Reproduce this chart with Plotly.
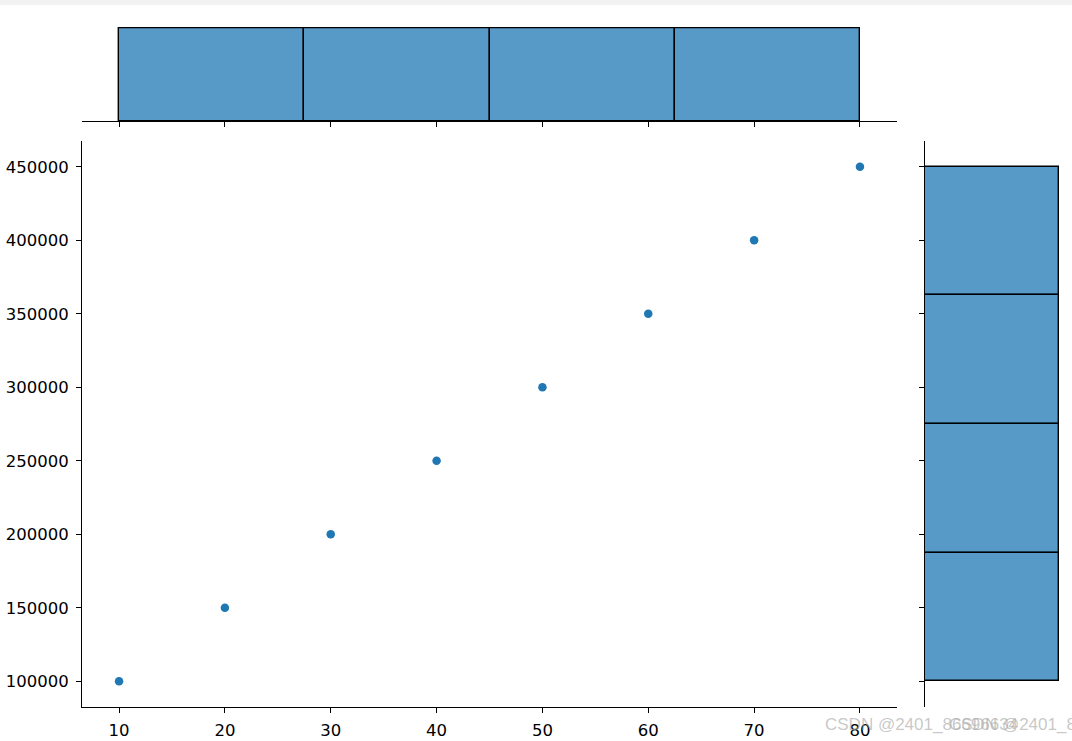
import numpy as np
import plotly.graph_objects as go

# Data
x_vals = [10, 20, 30, 40, 50, 60, 70, 80]
y_vals = [100000, 150000, 200000, 250000, 300000, 350000, 400000, 450000]
x_ticks = [10, 20, 30, 40, 50, 60, 70, 80]
y_ticks = [100000, 150000, 200000, 250000, 300000, 350000, 400000, 450000]
n_bins = 4
watermark = "CSDN @2401_86696634"

W, H = 1072, 741
def px_x(p):
    return p / W
def px_y(p):
    return (H - p) / H

xc, xe = np.histogram(x_vals, bins=n_bins)
yc, ye = np.histogram(y_vals, bins=n_bins)
x_centers = (xe[:-1] + xe[1:]) / 2
y_centers = (ye[:-1] + ye[1:]) / 2
x_width = xe[1] - xe[0]
y_width = ye[1] - ye[0]

bar_color = "rgba(31,119,180,0.75)"
fig = go.Figure()
fig.add_trace(go.Scatter(x=x_vals, y=y_vals, mode="markers",
                         marker=dict(color="#1f77b4", size=8.5),
                         xaxis="x", yaxis="y", showlegend=False))
fig.add_trace(go.Bar(x=x_centers, y=xc, width=x_width,
                     marker=dict(color=bar_color, line=dict(color="black", width=1.4)),
                     xaxis="x2", yaxis="y2", showlegend=False))
fig.add_trace(go.Bar(y=y_centers, x=yc, width=y_width, orientation="h",
                     marker=dict(color=bar_color, line=dict(color="black", width=1.4)),
                     xaxis="x3", yaxis="y3", showlegend=False))

ymax_x = max(xc) * 1.05
ymax_y = max(yc) * 1.05
xr = [x_vals[0] - 0.05 * (x_vals[-1] - x_vals[0]), x_vals[-1] + 0.05 * (x_vals[-1] - x_vals[0])]
yr = [y_vals[0] - 0.05 * (y_vals[-1] - y_vals[0]), y_vals[-1] + 0.05 * (y_vals[-1] - y_vals[0])]

axis_common = dict(showgrid=False, zeroline=False, showline=True, linecolor="black",
                   linewidth=1.1, ticks="outside", ticklen=5, tickwidth=1.1,
                   tickcolor="black")

main_x_dom = [px_x(82), px_x(897)]
main_y_dom = [px_y(707), px_y(141)]

wm_font = dict(family="Liberation Sans", size=17, color="rgba(170,170,170,0.65)")

fig.update_layout(
    width=W, height=H,
    margin=dict(l=0, r=0, t=0, b=0),
    paper_bgcolor="white", plot_bgcolor="white",
    font=dict(family="DejaVu Sans", size=16.5, color="black"),
    bargap=0,
    xaxis=dict(domain=main_x_dom, range=xr, tickvals=x_ticks, anchor="y",
               automargin=False, ticklabelstandoff=3, tickformat="d", **axis_common),
    yaxis=dict(domain=main_y_dom, range=yr, tickvals=y_ticks, anchor="x",
               automargin=False, ticklabelstandoff=4, tickformat="d", **axis_common),
    xaxis2=dict(domain=main_x_dom, range=xr, tickvals=x_ticks, anchor="y2",
                showticklabels=False, automargin=False, **axis_common),
    yaxis2=dict(domain=[px_y(121), px_y(121 - 93 * 1.05)], range=[0, ymax_x],
                visible=False, anchor="x2"),
    xaxis3=dict(domain=[px_x(925), px_x(925 + 134 * 1.05)], range=[0, ymax_y],
                visible=False, anchor="y3"),
    yaxis3=dict(domain=main_y_dom, range=yr, tickvals=y_ticks, anchor="x3",
                showticklabels=False, automargin=False, **axis_common),
    shapes=[dict(type="rect", xref="paper", yref="paper", x0=0, x1=1,
                 y0=px_y(5), y1=1, fillcolor="#f2f2f2", line=dict(width=0),
                 layer="below")],
    annotations=[
        dict(text=watermark, xref="paper", yref="paper",
             x=px_x(823), y=px_y(724), xanchor="left", yanchor="middle",
             showarrow=False, font=wm_font),
        dict(text=watermark, xref="paper", yref="paper",
             x=px_x(947), y=px_y(724), xanchor="left", yanchor="middle",
             showarrow=False, font=wm_font),
    ],
)

fig.write_html("out.html", config={"displayModeBar": False},
               post_script="document.body.style.margin='0px';document.body.style.overflow='hidden';")
